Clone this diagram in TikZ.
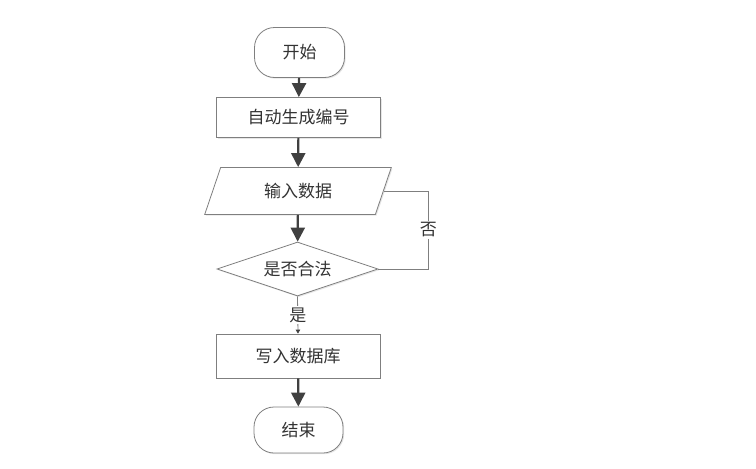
\documentclass[tikz,border=0pt]{standalone}
\usepackage{fontspec}
\newfontfamily\cjk{Noto Sans CJK SC}
\usetikzlibrary{shapes.geometric, arrows.meta, shadows}
\definecolor{boxgray}{HTML}{7F7F7F}
\definecolor{textgray}{HTML}{333333}
\definecolor{arrowgray}{HTML}{404040}

\begin{document}
\begin{tikzpicture}[x = 1pt, y = -1pt,
    box/.style = {draw=boxgray, line width=0.8pt, fill=white, text=textgray,
        font=\cjk\fontsize{17}{17}\selectfont, inner sep=0pt,
        drop shadow={shadow xshift=1.2pt, shadow yshift=-1.2pt, opacity=0.2}},
    terminal/.style = {box, rounded corners=20pt},
    flow/.style = {draw=arrowgray, line width=2.2pt, -{Triangle[width=14pt, length=14pt]}},
    branch/.style = {draw=boxgray, line width=0.8pt}]
    \useasboundingbox (0,0) rectangle (756,469);

    % 开始
    \node[terminal, minimum width=90pt, minimum height=50pt] (start) at (299.5,52.5) {开始};
    % 自动生成编号
    \node[box, minimum width=164pt, minimum height=40pt] (number) at (298.5,117.5) {自动生成编号};
    % 输入数据 (平行四边形)
    \node[box, trapezium, trapezium left angle=66, trapezium right angle=114,
        trapezium stretches=true, minimum width=188pt, minimum height=47pt] (input) at (298,191) {输入数据};
    % 是否合法 (判断)
    \node[box, diamond, aspect=3, minimum width=161pt, minimum height=54pt] (check) at (297.5,269) {是否合法};
    % 写入数据库
    \node[box, minimum width=164pt, minimum height=44pt] (write) at (298,356) {写入数据库};
    % 结束
    \node[terminal, minimum width=89pt, minimum height=46pt] (end) at (298.5,430) {结束};

    % 主流程箭头
    \draw[flow] (start) -- (number);
    \draw[flow] (number) -- (input);
    \draw[flow] (input) -- (check);
    \draw[flow] (write) -- (end);

    % 合法: 是
    \draw[branch, -{Triangle[width=4.5pt, length=4pt, color=arrowgray]}] (check.south) -- node[fill=white, inner sep=1.5pt, text=textgray, font=\cjk\fontsize{17}{17}\selectfont] (yes) {是} (write.north);
    % 不合法: 否, 返回输入数据
    \draw[branch] (check.east) -- ++(50,0) |- node[pos=0.25, fill=white, inner sep=1.5pt, text=textgray, font=\cjk\fontsize{17}{17}\selectfont] (no) {否} (input.east);
\end{tikzpicture}
\end{document}
